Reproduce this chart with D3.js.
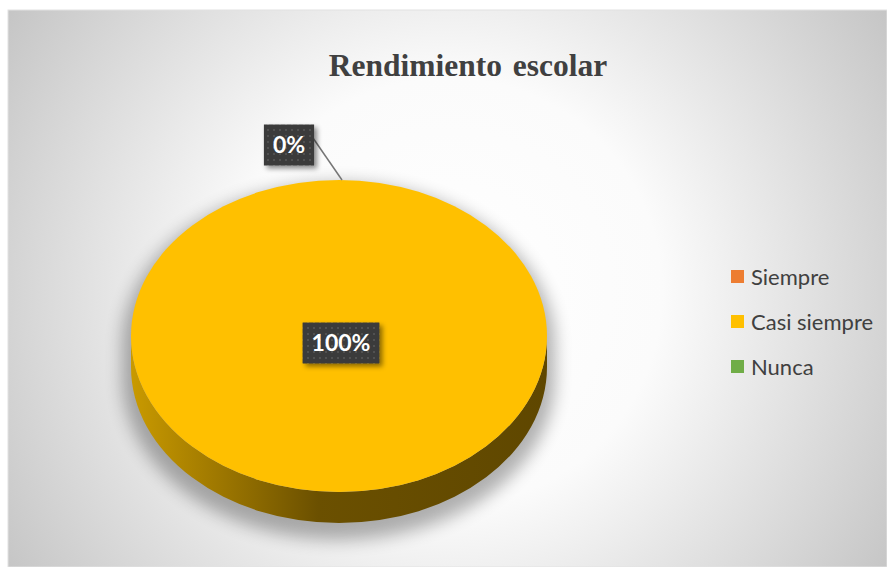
<!DOCTYPE html>
<html lang="es">
<head>
    <meta charset="UTF-8">
    <title>Rendimiento escolar</title>
    <script src="https://d3js.org/d3.v7.min.js"></script>
    <style>
        html, body { margin: 0; padding: 0; background: #fff; }
        svg { display: block; }
    </style>
</head>
<body>
    <div id="chart"></div>

    <script>
        // Data
        const categories = ["Siempre", "Casi siempre", "Nunca"];
        const values = [0, 100, 0];
        const colors = ["#ED7D31", "#FFC000", "#70AD47"];
        const sideColors = ["#8a4410", "#6b5000", "#3c6024"];
        const title = "Rendimiento escolar";

        const width = 887, height = 567;
        const frame = { x: 8, y: 10 };
        const cx = 339, cy = 336, rx = 208, ry = 156, depth = 31;

        const svg = d3.select("#chart").append("svg")
            .attr("width", width)
            .attr("height", height);

        const defs = svg.append("defs");

        // background radial gradient
        const bg = defs.append("radialGradient")
            .attr("id", "bg")
            .attr("gradientUnits", "userSpaceOnUse")
            .attr("cx", 448).attr("cy", 292).attr("r", 535);
        bg.append("stop").attr("offset", 0).attr("stop-color", "#ffffff");
        bg.append("stop").attr("offset", 0.4).attr("stop-color", "#fbfbfb");
        bg.append("stop").attr("offset", 1).attr("stop-color", "#c3c3c3");

        // side wall gradient (light at left, dark to the right)
        const side = defs.append("linearGradient")
            .attr("id", "side")
            .attr("gradientUnits", "userSpaceOnUse")
            .attr("x1", cx - rx).attr("x2", cx + rx).attr("y1", 0).attr("y2", 0);
        side.append("stop").attr("offset", 0).attr("stop-color", "#c99a00");
        side.append("stop").attr("offset", 0.22).attr("stop-color", "#9c7600");
        side.append("stop").attr("offset", 0.45).attr("stop-color", "#6b5000");
        side.append("stop").attr("offset", 1).attr("stop-color", "#5f4700");

        defs.append("filter").attr("id", "blur")
            .attr("x", "-20%").attr("y", "-20%").attr("width", "140%").attr("height", "140%")
            .append("feGaussianBlur").attr("stdDeviation", 8);

        const lblShadow = defs.append("filter").attr("id", "lblShadow")
            .attr("x", "-30%").attr("y", "-30%").attr("width", "160%").attr("height", "180%");
        lblShadow.append("feDropShadow")
            .attr("dx", 3).attr("dy", 3).attr("stdDeviation", 2.5)
            .attr("flood-color", "#000").attr("flood-opacity", 0.45);

        const pat = defs.append("pattern")
            .attr("id", "dots")
            .attr("patternUnits", "userSpaceOnUse")
            .attr("width", 6).attr("height", 6);
        pat.append("rect").attr("width", 6).attr("height", 6).attr("fill", "#3a3a3a");
        pat.append("rect").attr("x", 2).attr("y", 2).attr("width", 2).attr("height", 2).attr("fill", "#515151");

        // chart area
        svg.append("rect")
            .attr("x", frame.x).attr("y", frame.y)
            .attr("width", width - frame.x).attr("height", height - frame.y)
            .attr("fill", "url(#bg)")
            .attr("stroke", "#e2e2e2");

        // title
        svg.append("text")
            .attr("x", 468).attr("y", 76)
            .attr("text-anchor", "middle")
            .attr("font-family", "'Liberation Serif', 'Times New Roman', serif")
            .attr("font-weight", "bold")
            .attr("font-size", 31.5)
            .attr("word-spacing", 3)
            .attr("fill", "#404040")
            .text(title);

        // pie layout, clockwise from 12 o'clock
        const pie = d3.pie().sort(null).value(d => d)(values);

        const px = a => cx + rx * Math.sin(a);
        const py = a => cy - ry * Math.cos(a);

        function topPath(a0, a1) {
            if (a1 - a0 >= 2 * Math.PI - 1e-6) {
                return `M${cx - rx},${cy} A${rx},${ry} 0 1 1 ${cx + rx},${cy} A${rx},${ry} 0 1 1 ${cx - rx},${cy} Z`;
            }
            const large = (a1 - a0) > Math.PI ? 1 : 0;
            return `M${cx},${cy} L${px(a0)},${py(a0)} A${rx},${ry} 0 ${large} 1 ${px(a1)},${py(a1)} Z`;
        }

        function sidePath(a0, a1) {
            // only the front half (pi/2 .. 3pi/2) is visible
            const s = Math.max(a0, Math.PI / 2), e = Math.min(a1, 3 * Math.PI / 2);
            if (e <= s) return null;
            const large = (e - s) > Math.PI ? 1 : 0;
            return `M${px(s)},${py(s)} A${rx},${ry} 0 ${large} 1 ${px(e)},${py(e)}` +
                ` L${px(e)},${py(e) + depth} A${rx},${ry} 0 ${large} 0 ${px(s)},${py(s) + depth} Z`;
        }

        // drop shadow of the whole disc
        svg.append("path")
            .attr("d", `M${cx - rx},${cy} A${rx},${ry} 0 1 1 ${cx + rx},${cy} L${cx + rx},${cy + depth}` +
                ` A${rx},${ry} 0 1 1 ${cx - rx},${cy + depth} Z`)
            .attr("transform", `translate(0,10) scale(1.04) translate(${-cx * 0.04},${-cy * 0.04})`)
            .attr("fill", "#000")
            .attr("opacity", 0.3)
            .attr("filter", "url(#blur)");

        const g = svg.append("g");

        g.selectAll("path.side")
            .data(pie.filter(d => d.endAngle > d.startAngle && sidePath(d.startAngle, d.endAngle)))
            .join("path")
            .attr("class", "side")
            .attr("d", d => sidePath(d.startAngle, d.endAngle))
            .attr("fill", d => d.index === 1 ? "url(#side)" : sideColors[d.index]);

        g.selectAll("path.top")
            .data(pie.filter(d => d.endAngle > d.startAngle))
            .join("path")
            .attr("class", "top")
            .attr("d", d => topPath(d.startAngle, d.endAngle))
            .attr("fill", d => colors[d.index]);

        // data labels
        const fmt = d3.format(".0%");
        const total = d3.sum(values);

        function drawLabel(x, y, text) {
            const lg = svg.append("g").attr("transform", `translate(${x},${y})`);
            const t = lg.append("text")
                .attr("text-anchor", "middle")
                .attr("dy", "0.35em")
                .attr("font-family", "Lato, 'Open Sans', sans-serif")
                .attr("font-weight", "bold")
                .attr("font-size", 23)
                .attr("fill", "#ffffff")
                .text(text);
            const bb = t.node().getBBox();
            const padX = 9, h = 41;
            lg.insert("rect", "text")
                .attr("x", -bb.width / 2 - padX).attr("y", -h / 2)
                .attr("width", bb.width + padX * 2).attr("height", h)
                .attr("fill", "url(#dots)")
                .attr("filter", "url(#lblShadow)");
            return bb.width + padX * 2;
        }

        pie.forEach(d => {
            const txt = fmt(d.data / total);
            if (d.endAngle - d.startAngle > 0.5) {
                // inside label at the slice centroid
                const mid = (d.startAngle + d.endAngle) / 2;
                const f = d.endAngle - d.startAngle >= 2 * Math.PI - 1e-6 ? 0 : 0.55;
                drawLabel(cx + 2 + rx * f * Math.sin(mid), cy + 7 - ry * f * Math.cos(mid), txt);
            } else if (d.index === 0) {
                // zero slice: outside label with leader line
                const a = d.startAngle;
                const ex = px(a) + 3, ey = py(a);
                const lx = ex - 53, ly = ey - 35;
                svg.append("line")
                    .attr("x1", ex).attr("y1", ey)
                    .attr("x2", lx + 24).attr("y2", ly - 7)
                    .attr("stroke", "#767676").attr("stroke-width", 1.5);
                drawLabel(lx, ly, txt);
            }
        });

        // legend
        const legend = svg.append("g").attr("transform", "translate(731,277)");
        const item = legend.selectAll("g")
            .data(categories)
            .join("g")
            .attr("transform", (d, i) => `translate(0,${i * 45})`);
        item.append("rect")
            .attr("x", 0).attr("y", -7)
            .attr("width", 13).attr("height", 13)
            .attr("fill", (d, i) => colors[i]);
        item.append("text")
            .attr("x", 20).attr("y", 0)
            .attr("dy", "0.35em")
            .attr("font-family", "Lato, 'Open Sans', sans-serif")
            .attr("font-size", 22)
            .attr("fill", "#404040")
            .text(d => d);
    </script>
</body>
</html>
